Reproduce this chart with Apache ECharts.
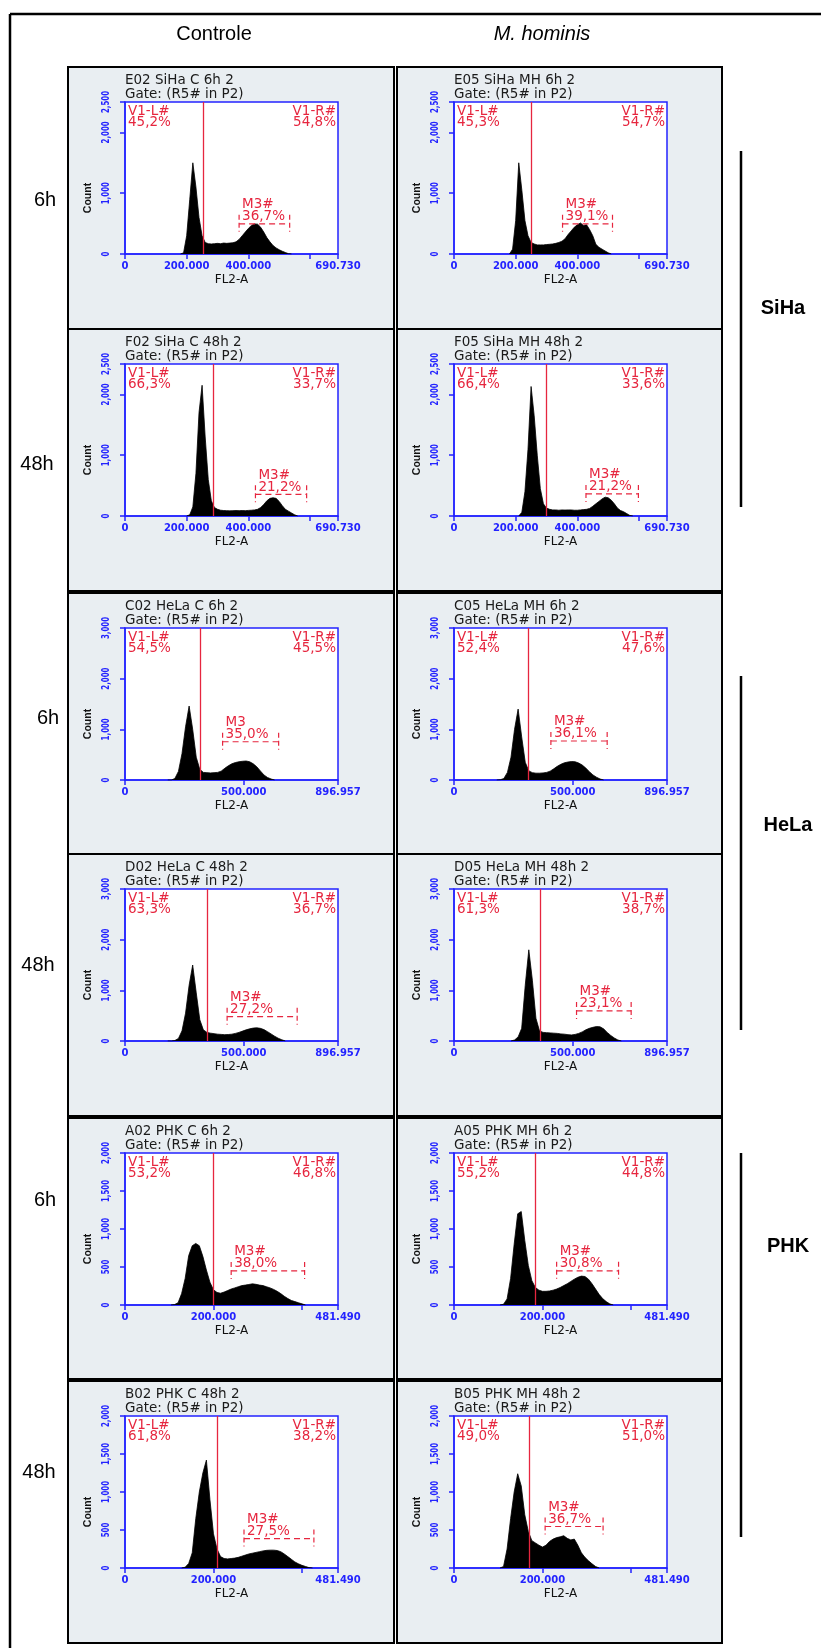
<!DOCTYPE html>
<html><head><meta charset="utf-8">
<script src="https://cdn.jsdelivr.net/npm/echarts@6/dist/echarts.min.js"></script>
<style>html,body{margin:0;padding:0;background:#fff}#c{width:821px;height:1648px}</style>
</head><body><div id="c"></div>
<script>
// ---------- DATA ----------
const colHeaders = ['Controle', 'M. hominis'];
const rowLabels = ['6h', '48h', '6h', '48h', '6h', '48h'];
const groupLabels = ['SiHa', 'HeLa', 'PHK'];

// axes per cell line (SiHa, HeLa, PHK)
const xMaxByLine = [690730, 896957, 481490];
const xTickValues = [[0, 200000, 400000, 600000, 690730], [0, 500000, 896957], [0, 200000, 400000, 481490]];
const xLabelValues = [[0, 200000, 400000, 690730], [0, 500000, 896957], [0, 200000, 481490]];
const yMaxByLine = [2500, 3000, 2000];
const yTickValues = [[0, 1000, 2000, 2500], [0, 1000, 2000, 3000], [0, 500, 1000, 1500, 2000]];
const histStepByLine = [10000, 15000, 8000];

// panels in reading order (row by row, left = Controle, right = M. hominis)
const panelTitles = ['E02 SiHa C 6h 2', 'E05 SiHa MH 6h 2', 'F02 SiHa C 48h 2', 'F05 SiHa MH 48h 2',
  'C02 HeLa C 6h 2', 'C05 HeLa MH 6h 2', 'D02 HeLa C 48h 2', 'D05 HeLa MH 48h 2',
  'A02 PHK C 6h 2', 'A05 PHK MH 6h 2', 'B02 PHK C 48h 2', 'B05 PHK MH 48h 2'];
const gateText = 'Gate: (R5# in P2)';
const v1Gate = [254000, 250000, 285000, 300000, 317000, 311000, 345000, 364000, 200000, 183000, 209000, 170000];
const v1LeftPct = ['45,2%', '45,3%', '66,3%', '66,4%', '54,5%', '52,4%', '63,3%', '61,3%', '53,2%', '55,2%', '61,8%', '49,0%'];
const v1RightPct = ['54,8%', '54,7%', '33,7%', '33,6%', '45,5%', '47,6%', '36,7%', '38,7%', '46,8%', '44,8%', '38,2%', '51,0%'];
const m3Names = ['M3#', 'M3#', 'M3#', 'M3#', 'M3', 'M3#', 'M3#', 'M3#', 'M3#', 'M3#', 'M3#', 'M3#'];
const m3Pct = ['36,7%', '39,1%', '21,2%', '21,2%', '35,0%', '36,1%', '27,2%', '23,1%', '38,0%', '30,8%', '27,5%', '36,7%'];
const m3From = [370000, 352000, 423000, 428000, 411000, 408000, 430000, 516000, 240000, 232000, 269000, 206000];
const m3To = [534000, 514000, 589000, 598000, 647000, 645000, 725000, 746000, 406000, 372000, 427000, 337000];
const m3Level = [496, 496, 357, 363, 755, 770, 480, 593, 448, 450, 387, 546];
const histStart = [180000, 180000, 200000, 210000, 180000, 180000, 180000, 240000, 104000, 104000, 128000, 104000];

const countsE02 = [0,20,300,900,1500,1100,600,300,190,170,165,170,175,170,180,175,180,185,200,240,300,360,420,470,495,490,440,360,270,200,140,100,70,45,25,5,0];
const countsE05 = [0,80,550,1500,1050,550,300,190,165,150,150,150,155,160,165,175,190,210,250,320,380,440,480,510,470,480,400,300,160,110,80,50,20,0];
const countsF02 = [0,20,150,700,1700,2150,1300,600,250,140,110,95,90,88,85,88,90,88,90,88,92,95,100,110,140,190,250,290,300,290,240,170,110,80,50,20,0];
const countsF05 = [0,60,400,1100,2130,1650,1000,450,200,130,110,100,100,95,100,98,100,100,95,95,100,105,110,125,160,200,240,280,310,300,260,200,130,90,70,40,10,0];
const countsC02 = [0,0,30,170,520,1050,1460,1000,450,210,150,145,140,145,150,175,230,280,320,345,360,370,375,360,320,260,180,100,50,20,0];
const countsC05 = [0,5,30,150,450,1000,1400,850,350,180,145,135,135,140,150,175,220,270,310,340,355,365,360,335,295,235,165,100,55,20,0];
const countsD02 = [0,0,10,50,200,550,1100,1500,950,420,220,170,155,145,135,130,125,128,135,150,170,195,220,240,255,260,250,225,185,140,95,55,25,0];
const countsD05 = [0,20,80,250,1100,1800,1200,450,200,170,165,160,155,150,140,135,125,120,130,150,180,220,250,270,285,280,240,170,110,60,20,0];
const countsA02 = [0,5,30,150,350,650,780,810,780,640,460,300,200,165,155,170,190,210,225,240,255,262,270,278,272,262,255,240,225,205,180,150,115,85,60,45,30,15,0];
const countsA05 = [0,10,80,350,800,1200,1230,850,520,320,230,195,180,180,185,195,210,230,255,280,310,340,365,380,375,340,280,210,140,85,45,15,0];
const countsB02 = [0,10,60,200,650,1000,1250,1420,900,450,250,150,125,120,125,130,140,155,170,185,195,205,215,225,232,235,235,230,215,185,150,115,80,55,35,20,5,0];
const countsB05 = [0,20,250,650,1000,1240,1080,700,480,360,330,300,275,300,350,380,400,410,425,390,370,380,300,200,140,95,55,20,0];
const panelCounts = [countsE02, countsE05, countsF02, countsF05, countsC02, countsC05, countsD02, countsD05, countsA02, countsA05, countsB02, countsB05];

// ---------- LAYOUT ----------
const panelLeft = [68, 397], panelWidth = [326, 325];
const panelTop = [67, 329, 593, 854, 1118, 1381], panelHeight = [262, 262, 261, 262, 261, 262];
const plotDX = 57, plotDY = 35, plotW = 213, plotH = 152;
const rowLabelPos = [[45, 200], [37, 464], [48, 718], [38, 965], [45, 1200], [39, 1472]];
const bracketX = 741;
const bracketSpan = [[151, 507], [676, 1030], [1153, 1537]];
const groupLabelPos = [[783, 308], [788, 825], [788, 1246]];

const BLUE = '#2323ff', RED = '#e6263f', PANEL_BG = '#e9eef2';
const fmtX = v => String(v).replace(/\B(?=(\d{3})+(?!\d))/g, '.');
const fmtY = v => String(v).replace(/\B(?=(\d{3})+(?!\d))/g, ',');

const chart = echarts.init(document.getElementById('c'), null, {renderer: 'canvas'});
const grids = [], xAxes = [], yAxes = [], series = [];
for (let p = 0; p < 12; p++) {
  const r = Math.floor(p / 2), c = p % 2, line = Math.floor(r / 2);
  grids.push({left: panelLeft[c] + plotDX, top: panelTop[r] + plotDY, width: plotW, height: plotH,
    show: true, backgroundColor: '#fff', borderColor: BLUE, borderWidth: 1.5, containLabel: false});
  xAxes.push({type: 'value', gridIndex: p, min: 0, max: xMaxByLine[line],
    splitLine: {show: false},
    axisLine: {lineStyle: {color: BLUE, width: 1.5}},
    axisTick: {show: true, inside: false, length: 5, lineStyle: {color: BLUE, width: 1.5}, customValues: xTickValues[line]},
    axisLabel: {customValues: xLabelValues[line], formatter: fmtX, hideOverlap: false, color: BLUE, fontFamily: 'DejaVu Sans', fontWeight: 'bold', fontSize: 10, margin: 7}
  });
  yAxes.push({type: 'value', gridIndex: p, min: 0, max: yMaxByLine[line],
    splitLine: {show: false},
    axisLine: {show: true, lineStyle: {color: BLUE, width: 1.5}},
    axisTick: {show: true, inside: false, length: 5, lineStyle: {color: BLUE, width: 1.5}, customValues: yTickValues[line]},
    axisLabel: {show: false}
  });
  const step = histStepByLine[line];
  const data = panelCounts[p].map((v, i) => [histStart[p] + i * step, v]);
  series.push({type: 'line', xAxisIndex: p, yAxisIndex: p, data: data, symbol: 'none', smooth: false,
    lineStyle: {color: '#000', width: 0.8}, areaStyle: {color: '#000', opacity: 1}, animation: false, silent: true,
    markLine: {symbol: 'none', silent: true, animation: false, label: {show: false},
      lineStyle: {color: RED, width: 1.3, type: 'solid'}, data: [{xAxis: v1Gate[p]}]}
  });
}
chart.setOption({animation: false, grid: grids, xAxis: xAxes, yAxis: yAxes, series: series});

// ---------- ANNOTATIONS ----------
const g = [];
const txt = (text, x, y, font, fill, align, valign, extra) => Object.assign({type: 'text', x: x, y: y, z: 50,
  style: {text: text, x: 0, y: 0, font: font, fill: fill, align: align, textAlign: align, verticalAlign: valign, textVerticalAlign: valign}}, extra || {});
const ln = (x1, y1, x2, y2, stroke, w, dash) => ({type: 'line', z: 40,
  shape: {x1: x1, y1: y1, x2: x2, y2: y2}, style: {stroke: stroke, lineWidth: w, lineDash: dash || null}});

// outer frame
g.push(ln(10, 14, 821, 14, '#000', 2.5));
g.push(ln(10, 14, 10, 1648, '#000', 2.5));
// headers
g.push(txt(colHeaders[0], 214, 34, '20px "Liberation Sans"', '#000', 'center', 'middle'));
g.push(txt(colHeaders[1], 542, 34, 'italic 20px "Liberation Sans"', '#000', 'center', 'middle'));
// row labels
rowLabels.forEach((t, r) => g.push(txt(t, rowLabelPos[r][0], rowLabelPos[r][1], '20px "Liberation Sans"', '#000', 'center', 'middle')));
// group brackets
groupLabels.forEach((t, i) => {
  g.push(ln(bracketX, bracketSpan[i][0], bracketX, bracketSpan[i][1], '#000', 2.5));
  g.push(txt(t, groupLabelPos[i][0], groupLabelPos[i][1], 'bold 20px "Liberation Sans"', '#000', 'center', 'middle'));
});

for (let p = 0; p < 12; p++) {
  const r = Math.floor(p / 2), c = p % 2, line = Math.floor(r / 2);
  const px = panelLeft[c], py = panelTop[r];
  const L = px + plotDX, T = py + plotDY, R = L + plotW, B = T + plotH;
  g.push({type: 'rect', z: -5, shape: {x: px, y: py, width: panelWidth[c], height: panelHeight[r]},
    style: {fill: PANEL_BG, stroke: '#000', lineWidth: 2}});
  const f = '13.5px "DejaVu Sans"';
  g.push(txt(panelTitles[p], L, T - 22, f, '#1a1a1a', 'left', 'middle'));
  g.push(txt(gateText, L, T - 8, f, '#1a1a1a', 'left', 'middle'));
  g.push(txt('V1-L#', L + 3, T + 9, f, RED, 'left', 'middle'));
  g.push(txt(v1LeftPct[p], L + 3, T + 20, f, RED, 'left', 'middle'));
  g.push(txt('V1-R#', R - 2, T + 9, f, RED, 'right', 'middle'));
  g.push(txt(v1RightPct[p], R - 2, T + 20, f, RED, 'right', 'middle'));
  g.push(txt('Count', L - 37, (T + B) / 2 + 20, 'bold 10.5px "Liberation Sans"', '#111', 'center', 'middle', {rotation: Math.PI / 2}));
  g.push(txt('FL2-A', (L + R) / 2, B + 26, '12px "DejaVu Sans"', '#111', 'center', 'middle'));
  // y tick labels (rotated, condensed) placed through the axis scale
  yTickValues[line].forEach(v => {
    const pt = chart.convertToPixel({gridIndex: p}, [0, v]);
    g.push(txt(fmtY(v), pt[0] - 19, pt[1], 'bold 10px "DejaVu Sans"', BLUE, 'center', 'middle', {rotation: Math.PI / 2, scaleX: 0.7}));
  });
  // M3 marker
  const a = chart.convertToPixel({gridIndex: p}, [m3From[p], m3Level[p]]);
  const b = chart.convertToPixel({gridIndex: p}, [m3To[p], m3Level[p]]);
  const ym = a[1];
  g.push(ln(a[0], ym, b[0], ym, RED, 1.2, [6, 4]));
  g.push(ln(a[0], ym - 9, a[0], ym + 8, RED, 1.2, [5, 3]));
  g.push(ln(b[0], ym - 9, b[0], ym + 8, RED, 1.2, [5, 3]));
  g.push(txt(m3Pct[p], a[0] + 3, ym - 7, f, RED, 'left', 'middle'));
  g.push(txt(m3Names[p], a[0] + 3, ym - 19, f, RED, 'left', 'middle'));
}
chart.setOption({graphic: {elements: g}});
</script></body></html>
